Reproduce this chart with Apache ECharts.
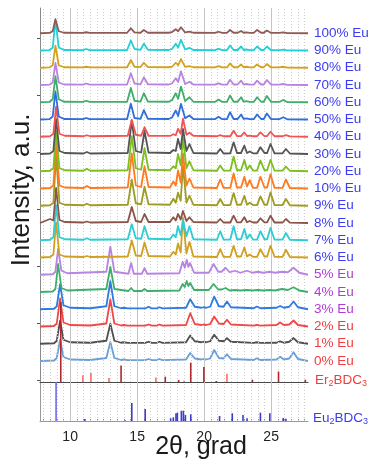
<!DOCTYPE html>
<html><head><meta charset="utf-8">
<script src="https://cdn.jsdelivr.net/npm/echarts@6/dist/echarts.min.js"></script>
<style>html,body{margin:0;padding:0;background:#fff}#c{width:373px;height:462px}</style>
</head><body><div id="c"></div>
<script>
// ---- sample names (bottom to top) ----
const names = ['0% Eu','1% Eu','2% Eu','3% Eu','4% Eu','5% Eu','6% Eu','7% Eu','8% Eu','9% Eu','10% Eu','20% Eu','30% Eu','40% Eu','50% Eu','60% Eu','70% Eu','80% Eu','90% Eu','100% Eu'];

// ---- 2theta grids ----
const erX = [7.75, 8.8, 9.0, 9.25, 9.5, 10.0, 11.5, 12.7, 13.0, 13.3, 13.8, 14.0, 14.3, 15.6, 15.85, 16.1, 16.45, 16.65, 16.9, 18.65, 18.96, 19.3, 19.8, 19.95, 20.15, 20.45, 20.75, 21.1, 21.45, 21.7, 22.0, 23.7, 23.93, 24.2, 25.4, 25.67, 25.95, 26.35, 26.67, 27.0, 27.75];
const mixX = [7.75, 8.7, 8.9, 9.1, 9.35, 9.8, 12.7, 13.0, 13.3, 14.35, 14.55, 14.75, 15.35, 15.55, 15.75, 18.15, 18.4, 18.55, 18.7, 18.82, 18.95, 19.25, 20.35, 20.7, 21.05, 21.3, 21.6, 21.9, 22.3, 22.7, 23.2, 23.6, 24.0, 24.4, 24.9, 25.3, 25.8, 26.25, 26.67, 27.1, 27.75];
const euXLow = [7.75, 8.5, 8.75, 8.95, 9.2, 9.6, 11.0, 11.25, 11.5, 14.3, 14.6, 14.9, 15.3, 15.55, 15.85, 17.45, 17.7, 17.88, 18.05, 18.25, 18.42, 18.68, 18.9, 19.2, 20.95, 21.2, 21.45, 21.95, 22.2, 22.45, 22.75, 23.0, 23.2, 23.4, 23.65, 23.95, 24.2, 24.5, 24.7, 24.95, 25.25, 25.85, 26.1, 26.4, 27.75];
const euXHigh = [7.75, 8.45, 8.7, 8.9, 9.15, 9.55, 10.95, 11.2, 11.45, 14.25, 14.53, 14.8, 15.25, 15.5, 15.8, 17.35, 17.6, 17.72, 17.88, 18.06, 18.27, 18.58, 18.9, 19.2, 20.8, 21.07, 21.35, 21.7, 21.93, 22.2, 22.5, 22.76, 22.95, 23.15, 23.4, 23.7, 23.95, 24.25, 24.45, 24.68, 25.0, 25.6, 25.9, 26.2, 27.75];

// ---- intensities ----
const y0 = [0, 0.5, 3, 21, 4, 1.5, 1, 3, 19, 3, 1, 1.5, 0.8, 0.8, 2, 0.8, 0.8, 2, 0.8, 1.5, 8, 2.5, 1.5, 2, 1.5, 2.5, 11, 3, 2.5, 6.7, 2, 1, 2.7, 1, 1.5, 4.3, 1.5, 2.5, 8.7, 2, 0];
const y1 = [0, 0.5, 3, 23, 4, 1.5, 1, 3, 20, 3, 1, 1.5, 0.8, 0.8, 2, 0.8, 0.8, 2, 0.8, 1.5, 8.3, 2.5, 1.5, 2, 1.5, 2.5, 9, 3, 2.5, 5.7, 2, 0.8, 1.5, 0.8, 1, 2.3, 1, 2, 5.7, 1.5, 0];
const y2 = [0, 0.5, 3, 28, 4, 1.5, 1, 3, 27, 3, 1, 1.5, 0.8, 0.8, 2, 0.8, 0.8, 2, 0.8, 1.5, 13.3, 2.5, 1.5, 2, 1.5, 2.5, 10, 3, 2.5, 6.7, 2, 0.8, 1.7, 0.8, 1.5, 4, 1.5, 2, 6, 1.5, 0];
const y3 = [0, 0.5, 3, 25, 4, 1.5, 1, 3, 28, 3, 1, 1.5, 0.8, 0.8, 2.5, 0.8, 0.8, 2, 0.8, 1.5, 10, 2.5, 1.5, 2, 1.5, 2.5, 12.7, 3, 2.5, 7.7, 2, 1, 2.7, 1, 1.5, 3.3, 1.5, 2.5, 7.7, 2, 0];
const y4 = [0, 0.5, 3, 28, 4, 1.5, 3, 25, 3, 1, 4, 1, 1, 3, 1, 1.5, 8, 5, 11, 6, 9, 2, 2, 8, 2.5, 2.5, 4, 1.5, 2, 1.5, 2, 1.5, 2, 1.5, 2, 1.5, 3, 2, 4.7, 1.5, 0];
const y5 = [0, 0.5, 3, 26, 4, 1.5, 3, 28, 3, 1, 11.7, 1, 1, 6.7, 1, 1.5, 13, 7, 15, 8, 11.7, 2, 2, 10.7, 3, 3, 7, 2.5, 4, 2, 4, 2, 3, 2, 3, 2, 3, 2.5, 7, 2, 0];
const y6 = [0, 0.5, 3, 35, 3, 1, 0.5, 1.5, 0.5, 1, 17, 2, 1.5, 15, 1.5, 1, 5.7, 3, 14, 5, 40, 4, 15.7, 1, 0.5, 8.3, 0.7, 0.7, 11.7, 1, 1, 10, 1, 3, 0.7, 0.7, 8.3, 1, 1, 11.7, 0.7, 0.7, 7.7, 0.5, 0];
const y7 = [0, 0.5, 3, 35, 3, 1, 0.5, 2, 0.5, 1, 16, 2, 1.5, 14, 1.5, 1, 5.7, 3, 14, 5, 20, 4, 14, 1, 0.5, 9, 0.7, 0.7, 14, 1, 1, 11.3, 1.5, 5.7, 0.7, 0.7, 9, 1, 1, 12.3, 0.7, 0.7, 7.3, 0.5, 0];
const y8 = [0, 4, 2.5, 35, 3, 1, 0.5, 1.5, 0.5, 1, 16, 2, 1, 9, 1, 1, 5.7, 2.5, 9, 3.5, 12, 2, 5.7, 1, 0.5, 4, 0.5, 0.5, 7.3, 0.7, 0.7, 5.7, 0.7, 2, 0.5, 0.5, 4.7, 0.7, 0.7, 7.3, 0.5, 0.5, 4, 0.3, 0];
const y9 = [0, 0.5, 3, 50, 3, 1, 0.5, 2, 0.5, 1, 26, 2.5, 1.5, 19, 1.5, 1, 7, 3, 13, 5, 40, 3, 10, 1, 0.5, 6.7, 0.7, 0.7, 12.7, 1, 1, 10, 1, 3, 0.7, 0.7, 9.3, 1, 1, 13.3, 0.7, 0.7, 6.7, 0.5, 0];
const y10 = [0, 0.5, 3, 45, 3, 1, 0.5, 2.5, 0.5, 1, 35, 3, 1.5, 22, 1.5, 1, 7, 3, 18, 6, 35, 3, 10, 1, 0.5, 9, 0.7, 0.7, 15, 1, 1, 11.7, 2, 8.3, 0.7, 0.7, 11.7, 1, 1, 14.3, 0.7, 0.7, 9, 0.5, 0];
const y20 = [0, 0.5, 3, 40, 3, 1, 0.5, 2.5, 0.5, 1, 35, 3, 1.5, 23, 1.5, 1, 5, 3, 17, 6, 33, 3, 10, 1, 0.5, 5.7, 0.7, 0.7, 14.7, 1, 1, 11.3, 1.5, 5.7, 0.7, 0.7, 10.7, 1, 1, 11.3, 0.7, 0.7, 4.7, 0.5, 0];
const y30 = [0, 0.5, 3, 35, 3, 1, 0.5, 2, 0.5, 1, 33, 3, 1.5, 23, 1.5, 1, 4, 3, 15, 5, 25, 3, 10, 1, 0.5, 5, 0.5, 0.7, 11.7, 1, 1, 8.3, 1, 2.5, 0.7, 0.7, 6.7, 1, 1, 10, 0.7, 0.7, 5, 0.5, 0];
const y40 = [0, 0.5, 3, 30, 3, 1, 0.5, 1.5, 0.5, 1, 17, 2, 1, 9.5, 1, 0.8, 2.5, 1.5, 8, 3, 18, 2, 4, 1, 0.5, 1.7, 0.5, 0.5, 6, 0.7, 0.7, 4.3, 0.7, 1.2, 0.5, 0.5, 4.3, 0.7, 0.7, 5, 0.5, 0.5, 1.7, 0.3, 0];
const y50 = [0, 0.3, 3, 28, 3, 0.5, 0.3, 1.5, 0.3, 0.5, 15.7, 1.5, 0.7, 9.3, 0.7, 0.5, 2, 2, 9, 3.5, 15.7, 1.2, 4, 0.5, 0.3, 2.7, 0.3, 0.3, 7.3, 0.5, 0.5, 5, 0.5, 1.2, 0.3, 0.3, 5, 0.5, 0.5, 6, 0.3, 0.3, 2.3, 0.2, 0];
const y60 = [0, 0.3, 3, 26, 3, 0.5, 0.3, 1.5, 0.3, 0.5, 14.3, 1.5, 0.7, 9, 0.7, 0.5, 2, 2, 9, 3.5, 15.7, 1.2, 5, 0.5, 0.3, 2.7, 0.3, 0.3, 6.7, 0.5, 0.5, 5, 0.5, 1.2, 0.3, 0.3, 5, 0.5, 0.5, 6.3, 0.3, 0.3, 2.3, 0.2, 0];
const y70 = [0, 0.3, 2.5, 22, 2.5, 0.5, 0.3, 1.5, 0.3, 0.5, 11.7, 1.5, 0.7, 7.7, 0.7, 0.5, 1.5, 1.5, 6.7, 3, 13.7, 1, 3.3, 0.5, 0.3, 1.7, 0.3, 0.3, 5.3, 0.5, 0.5, 4.3, 0.5, 1, 0.3, 0.3, 4.3, 0.5, 0.5, 5, 0.3, 0.3, 1, 0.2, 0];
const y80 = [0, 0.3, 2.5, 22, 2.5, 0.5, 0.3, 1, 0.3, 0.5, 7.7, 1, 0.7, 5, 0.7, 0.5, 1, 1.2, 5, 2.5, 8.7, 0.8, 1.7, 0.5, 0.3, 1.7, 0.3, 0.3, 4.3, 0.5, 0.5, 3.3, 0.5, 1, 0.3, 0.3, 3.3, 0.5, 0.5, 3.7, 0.3, 0.3, 1, 0.2, 0];
const y90 = [0, 0.3, 3, 30, 3, 0.5, 0.3, 1.5, 0.3, 0.5, 10, 1.5, 0.7, 6.7, 0.7, 0.5, 1.5, 1.5, 6.7, 3, 10.7, 1, 2.7, 0.5, 0.3, 1.7, 0.3, 0.3, 5, 0.5, 0.5, 4, 0.5, 1, 0.3, 0.3, 4, 0.5, 0.5, 4, 0.3, 0.3, 0.8, 0.2, 0];
const y100 = [0, 0.3, 2, 14, 2, 0.5, 0.3, 1, 0.3, 0.5, 5, 0.8, 0.5, 3.3, 0.5, 0.5, 1.2, 1, 4, 2, 6, 0.8, 1.7, 0.5, 0.3, 1.5, 0.3, 0.3, 3.3, 0.5, 0.5, 2.3, 0.5, 0.8, 0.3, 0.3, 3.3, 0.5, 0.5, 2.7, 0.3, 0.3, 0.8, 0.2, 0];

// ---- reference stick patterns ----
const erStickX = [9.3, 10.95, 11.55, 12.9, 13.8, 16.4, 17.1, 18.1, 18.5, 19.0, 19.98, 20.9, 21.7, 23.6, 25.55, 27.55];
const erStickH = [80, 6.7, 9, 4, 16.5, 4.5, 5.3, 2, 1.2, 19.3, 15, 1, 8.3, 2.3, 10.5, 2.3];
const euStickX = [8.95, 11.1, 14.1, 14.6, 15.6, 17.5, 17.7, 17.9, 18.0, 18.3, 18.45, 18.6, 19.0, 21.15, 22.1, 22.9, 23.2, 24.2, 24.9, 25.9, 26.1];
const euStickH = [39, 2, 0.8, 18, 12, 2.7, 3.7, 7.7, 8.3, 10.3, 10.3, 6, 6.7, 5, 7.7, 6, 2.7, 8.3, 7.7, 3, 2.3];

// ---- styling / layout ----
const xGrids = [erX, erX, erX, erX, mixX, mixX, euXLow, euXLow, euXLow, euXLow, euXLow, euXLow, euXLow, euXLow, euXHigh, euXHigh, euXHigh, euXHigh, euXHigh, euXHigh];
const yData = [y0, y1, y2, y3, y4, y5, y6, y7, y8, y9, y10, y20, y30, y40, y50, y60, y70, y80, y90, y100];
const lineColors = ['#6a9fd8','#505050','#f04848','#2f7be0','#3eae6c','#b884e4','#d0a020','#2ccdd4','#8a5548','#9f9c23','#ff7a1f','#7cbf1f','#555555','#f05454','#2f6fdc','#3fae6a','#b984e0','#d4a11e','#1fd0d6','#8e5b56'];
const BLUE = '#3b3bf2', PURP = '#b03cd6', RED = '#f03c3c';
const labelColors = [RED, RED, RED, PURP, PURP, PURP].concat(new Array(14).fill(BLUE));
const erShade = ['d','l','l','l','d','l','d','d','l','d','d','d','l','d','d','d'];
const BASE = 21, STEP = 17.25;
const XMIN = 7.75, XMAX = 27.75;
const FONT = '"Liberation Sans", Arial, sans-serif';

const majors = [10, 15, 20, 25];
const minors = [];
for (let v = 8; v <= 27.5; v += 0.5) minors.push(v);

function gridLines(gi) {
  return {
    type: 'line', xAxisIndex: gi, yAxisIndex: gi, data: [[XMIN, 0]], showSymbol: false, z: 1,
    lineStyle: { width: 0 }, silent: true,
    markLine: {
      silent: true, symbol: 'none', label: { show: false }, animation: false,
      data: minors.filter(v => majors.indexOf(v) < 0).map(v => ({ xAxis: v, lineStyle: { color: '#cfcfcf', width: 1, type: [1, 2] } }))
        .concat(majors.map(v => ({ xAxis: v, lineStyle: { color: '#c4c4c4', width: 1, type: 'solid' } })))
    }
  };
}

const series = [gridLines(0), gridLines(1)];
yData.forEach((ys, i) => {
  const off = BASE + STEP * i;
  series.push({
    type: 'line', xAxisIndex: 0, yAxisIndex: 0, name: names[i],
    data: xGrids[i].map((x, j) => [x, off + ys[j]]),
    showSymbol: false, symbol: 'none', z: 3 + i,
    lineStyle: { color: lineColors[i], width: 1.8, join: 'round' },
    endLabel: { show: true, formatter: names[i], color: labelColors[i], fontSize: 13.5, fontFamily: FONT, distance: 6 }
  });
});

// Er2BDC3 sticks
series.push({
  type: 'bar', xAxisIndex: 0, yAxisIndex: 0, barWidth: 1.6, z: 40,
  data: erStickX.map((x, j) => ({ value: [x, erStickH[j]], itemStyle: { color: erShade[j] === 'd' ? '#b3262b' : '#ff6b6b' } }))
});
// Eu2BDC3 sticks
series.push({
  type: 'bar', xAxisIndex: 1, yAxisIndex: 1, barWidth: 1.6, z: 40,
  data: euStickX.map((x, j) => ({ value: [x, euStickH[j]], itemStyle: { color: j === 0 ? '#6d6de6' : '#3c3cc8' } }))
});
// pattern labels
series.push({
  type: 'line', xAxisIndex: 0, yAxisIndex: 0, data: [[XMIN, 0], [XMAX, 0]], showSymbol: false, z: 2,
  lineStyle: { width: 0 },
  endLabel: { show: true, formatter: 'Er{s|2}BDC{s|3}', color: RED, fontSize: 13.5, fontFamily: FONT, distance: 7, offset: [0, -2],
    rich: { s: { fontSize: 9, color: RED, fontFamily: FONT, padding: [7, 0, 0, 0] } } }
});
series.push({
  type: 'line', xAxisIndex: 1, yAxisIndex: 1, data: [[XMIN, 3], [XMAX, 3]], showSymbol: false, z: 2,
  lineStyle: { width: 0 },
  endLabel: { show: true, formatter: 'Eu{s|2}BDC{s|3}', color: BLUE, fontSize: 13.5, fontFamily: FONT, distance: 5,
    rich: { s: { fontSize: 9, color: BLUE, fontFamily: FONT, padding: [7, 0, 0, 0] } } }
});

const chart = echarts.init(document.getElementById('c'), null, { renderer: 'canvas' });
chart.setOption({
  animation: false,
  backgroundColor: '#ffffff',
  grid: [
    { left: 40, right: 65, top: 8, bottom: 80 },
    { left: 40, right: 65, top: 382, bottom: 41 }
  ],
  xAxis: [
    { type: 'value', gridIndex: 0, min: XMIN, max: XMAX,
      axisLine: { show: true, lineStyle: { color: '#4a4a4a', width: 1.2 } },
      axisTick: { show: false }, axisLabel: { show: false }, splitLine: { show: false } },
    { type: 'value', gridIndex: 1, min: XMIN, max: XMAX,
      axisLine: { show: true, lineStyle: { color: '#9a9a9a', width: 1 } },
      axisTick: { show: true, inside: true, length: 2, customValues: minors, lineStyle: { color: '#888' } },
      axisLabel: { show: true, customValues: majors, fontSize: 14, color: '#222', fontFamily: FONT, margin: 9 },
      splitLine: { show: false } }
  ],
  yAxis: [
    { type: 'value', gridIndex: 0, min: 0, max: 374,
      axisLine: { show: true, lineStyle: { color: '#8a8a8a', width: 1 } },
      axisTick: { show: true, inside: false, length: 3, customValues: [2, 59, 116, 173, 230, 287, 344], lineStyle: { color: '#555' } },
      axisLabel: { show: false }, splitLine: { show: false } },
    { type: 'value', gridIndex: 1, min: 0, max: 39,
      axisLine: { show: true, lineStyle: { color: '#9a9a9a', width: 1 } },
      axisTick: { show: false }, axisLabel: { show: false }, splitLine: { show: false } }
  ],
  graphic: [
    { type: 'text', x: 22, y: 190, rotation: Math.PI / 2, z: 100,
      style: { text: 'Intensity, a.u.', font: '26px ' + FONT, fill: '#1a1a1a', textAlign: 'center', textVerticalAlign: 'middle' } },
    { type: 'text', x: 201, y: 447, z: 100,
      style: { text: '2θ, grad', font: '25px ' + FONT, fill: '#1a1a1a', textAlign: 'center', textVerticalAlign: 'middle' } }
  ],
  series: series
});
</script>
</body></html>
